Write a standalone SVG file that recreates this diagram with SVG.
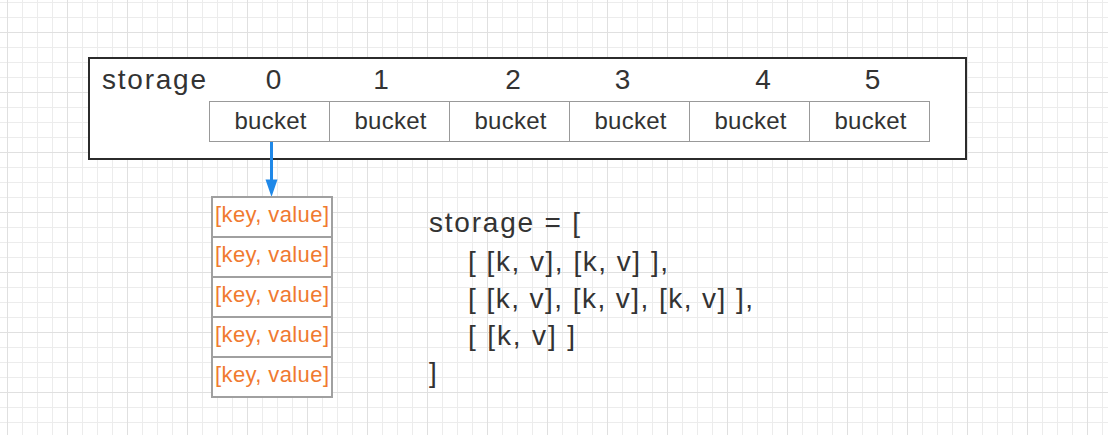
<svg xmlns="http://www.w3.org/2000/svg" width="1108" height="435" viewBox="0 0 1108 435">
  <style>
    .t { font-family: "Liberation Sans", Arial, sans-serif; fill: #333333; }
    .head { font-size: 28px; }
    .bk { font-size: 24px; text-anchor: middle; }
    .kv { font-size: 22px; fill: #f07a30; text-anchor: middle; }
    .code { font-size: 28px; }
    .bucket { fill: #ffffff; stroke: #999999; stroke-width: 1; }
    .cell { fill: #ffffff; stroke: #a0a0a0; stroke-width: 2; }
  </style>
  <defs>
    <pattern id="minor" x="7" y="2" width="15" height="15" patternUnits="userSpaceOnUse">
      <path d="M0.5 0V15M0 0.5H15" stroke="#ececec" stroke-width="1" fill="none"/>
    </pattern>
    <pattern id="major" x="7" y="32" width="60" height="60" patternUnits="userSpaceOnUse">
      <path d="M0.5 0V60M0 0.5H60" stroke="#e0e0e0" stroke-width="1" fill="none"/>
    </pattern>
  </defs>
  <rect width="1108" height="435" fill="#ffffff"/>
  <rect width="1108" height="435" fill="url(#minor)"/>
  <rect width="1108" height="435" fill="url(#major)"/>

  <g id="storage">
    <rect x="89" y="58" width="877" height="101" fill="#ffffff" stroke="#2b2b2b" stroke-width="2"/>
    <text class="t head" x="102" y="88.5" textLength="104" lengthAdjust="spacing">storage</text>
    <g class="t head" text-anchor="middle">
      <text x="273.5" y="89">0</text>
      <text x="381" y="89">1</text>
      <text x="513" y="89">2</text>
      <text x="622.5" y="89">3</text>
      <text x="763" y="89">4</text>
      <text x="872.5" y="89">5</text>
    </g>
  </g>

  <g id="buckets">
    <g id="bucket0"><rect class="bucket" x="209.5" y="101.5" width="120" height="40"/><text class="t bk" x="270.5" y="129" textLength="72" lengthAdjust="spacing">bucket</text></g>
    <g id="bucket1"><rect class="bucket" x="329.5" y="101.5" width="120" height="40"/><text class="t bk" x="390.5" y="129" textLength="72" lengthAdjust="spacing">bucket</text></g>
    <g id="bucket2"><rect class="bucket" x="449.5" y="101.5" width="120" height="40"/><text class="t bk" x="510.5" y="129" textLength="72" lengthAdjust="spacing">bucket</text></g>
    <g id="bucket3"><rect class="bucket" x="569.5" y="101.5" width="120" height="40"/><text class="t bk" x="630.5" y="129" textLength="72" lengthAdjust="spacing">bucket</text></g>
    <g id="bucket4"><rect class="bucket" x="689.5" y="101.5" width="120" height="40"/><text class="t bk" x="750.5" y="129" textLength="72" lengthAdjust="spacing">bucket</text></g>
    <g id="bucket5"><rect class="bucket" x="809.5" y="101.5" width="120" height="40"/><text class="t bk" x="870.5" y="129" textLength="72" lengthAdjust="spacing">bucket</text></g>
  </g>

  <g id="connectors">
    <line x1="271.5" y1="142" x2="271.5" y2="181" stroke="#1f88e8" stroke-width="3"/>
    <polygon points="265.5,179.5 277.5,179.5 271.5,197" fill="#1f88e8"/>
  </g>

  <g id="pairs">
    <g id="pair0"><rect class="cell" x="212" y="197" width="120" height="40"/><text class="t kv" x="272" y="222" textLength="114" lengthAdjust="spacing">[key, value]</text></g>
    <g id="pair1"><rect class="cell" x="212" y="237" width="120" height="40"/><text class="t kv" x="272" y="262" textLength="114" lengthAdjust="spacing">[key, value]</text></g>
    <g id="pair2"><rect class="cell" x="212" y="277" width="120" height="40"/><text class="t kv" x="272" y="302" textLength="114" lengthAdjust="spacing">[key, value]</text></g>
    <g id="pair3"><rect class="cell" x="212" y="317" width="120" height="40"/><text class="t kv" x="272" y="342" textLength="114" lengthAdjust="spacing">[key, value]</text></g>
    <g id="pair4"><rect class="cell" x="212" y="357" width="120" height="40"/><text class="t kv" x="272" y="382" textLength="114" lengthAdjust="spacing">[key, value]</text></g>
  </g>

  <g id="code" class="t code">
    <text x="429" y="232" textLength="151" lengthAdjust="spacing">storage = [</text>
    <text x="468" y="270.5" textLength="200" lengthAdjust="spacing">[ [k, v], [k, v] ],</text>
    <text x="468" y="307.5" textLength="285" lengthAdjust="spacing">[ [k, v], [k, v], [k, v] ],</text>
    <text x="468" y="344.5" textLength="107" lengthAdjust="spacing">[ [k, v] ]</text>
    <text x="429" y="381.5">]</text>
  </g>
</svg>
